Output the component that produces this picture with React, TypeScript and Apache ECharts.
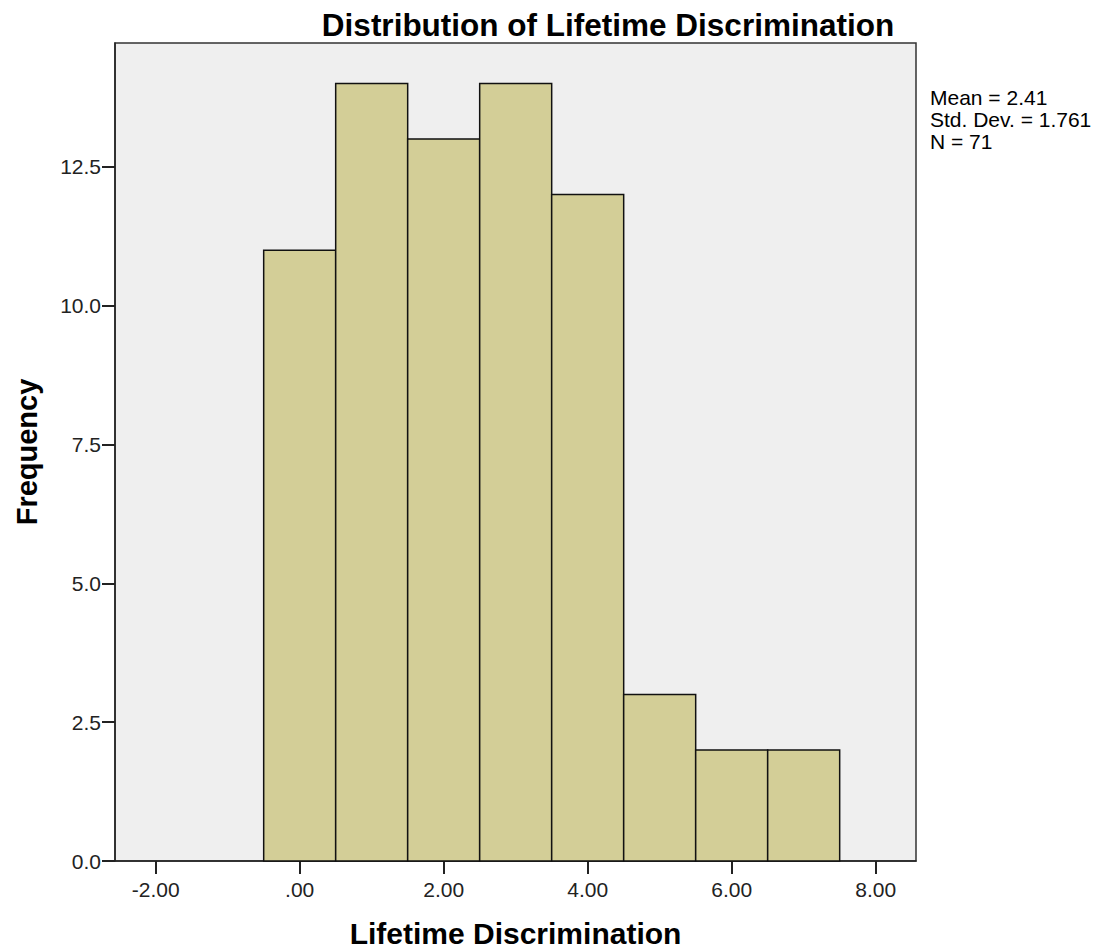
import React, { useEffect, useRef } from "react";
import * as echarts from "echarts";

const binStarts = [-0.5, 0.5, 1.5, 2.5, 3.5, 4.5, 5.5, 6.5];
const binEnds = [0.5, 1.5, 2.5, 3.5, 4.5, 5.5, 6.5, 7.5];
const counts = [11, 14, 13, 14, 12, 3, 2, 2];
const xTicks = [-2, 0, 2, 4, 6, 8];
const yTicks = [0, 2.5, 5, 7.5, 10, 12.5];
const statsLines = ["Mean = 2.41", "Std. Dev. = 1.761", "N = 71"];

const FONT = "Liberation Sans, Arial, sans-serif";

const fmtX = (v: number) => {
  const s = v.toFixed(2);
  if (s === "0.00") return ".00";
  return s;
};

export default function App() {
  const ref = useRef<HTMLDivElement>(null);
  useEffect(() => {
    if (!ref.current) return;
    const chart = echarts.init(ref.current, undefined, { renderer: "svg" });
    const data = counts.map((c, i) => [binStarts[i], binEnds[i], c]);
    chart.setOption({
      animation: false,
      backgroundColor: "#ffffff",
      textStyle: { fontFamily: FONT },
      title: {
        text: "Distribution of Lifetime Discrimination",
        left: 603,
        textAlign: "center",
        top: 4,
        textStyle: { fontSize: 31.5, fontWeight: "bold", color: "#000", fontFamily: FONT },
      },
      grid: {
        left: 115,
        top: 43,
        right: 180,
        bottom: 90,
        outerBoundsMode: "none",
        containLabel: false,
        show: true,
        backgroundColor: "#efefef",
        borderColor: "#333",
        borderWidth: 1.5,
      },
      xAxis: {
        type: "value",
        min: -2.565,
        max: 8.56,
        name: "Lifetime Discrimination",
        nameLocation: "middle",
        nameGap: 57,
        nameTextStyle: { fontSize: 30, fontWeight: "bold", color: "#000", fontFamily: FONT },
        splitLine: { show: false },
        axisLine: { show: true, onZero: false, lineStyle: { color: "#222", width: 1.5 } },
        axisTick: { show: true, length: 13, lineStyle: { color: "#222", width: 2 }, customValues: xTicks },
        axisLabel: {
          customValues: xTicks,
          formatter: (v: number) => fmtX(v),
          fontSize: 21,
          color: "#222",
          margin: 18,
          fontFamily: FONT,
        },
      },
      yAxis: {
        type: "value",
        min: 0,
        max: 14.73,
        name: "Frequency",
        nameLocation: "middle",
        nameGap: 74,
        nameRotate: 90,
        nameTextStyle: { fontSize: 29, fontWeight: "bold", color: "#000", fontFamily: FONT },
        splitLine: { show: false },
        axisLine: { show: true, onZero: false, lineStyle: { color: "#222", width: 1.5 } },
        axisTick: { show: true, length: 13, lineStyle: { color: "#222", width: 2 }, customValues: yTicks },
        axisLabel: {
          customValues: yTicks,
          formatter: (v: number) => v.toFixed(1),
          fontSize: 21,
          color: "#222",
          margin: 14,
          fontFamily: FONT,
        },
      },
      series: [
        {
          type: "custom",
          data,
          encode: { x: [0, 1], y: 2 },
          renderItem: (params: any, api: any) => {
            const lo = api.value(0);
            const hi = api.value(1);
            const c = api.value(2);
            const p1 = api.coord([lo, c]);
            const p2 = api.coord([hi, 0]);
            return {
              type: "rect",
              shape: { x: p1[0], y: p1[1], width: p2[0] - p1[0], height: p2[1] - p1[1] },
              style: { fill: "#d3ce97", stroke: "#111", lineWidth: 1.5 },
            };
          },
        },
      ],
      graphic: [
        {
          type: "text",
          left: 930,
          top: 86,
          style: {
            text: statsLines.join("\n"),
            fontSize: 21,
            lineHeight: 22,
            fill: "#000",
            fontFamily: FONT,
          },
        },
      ],
    });
    return () => chart.dispose();
  }, []);
  return <div ref={ref} style={{ position: "absolute", left: 0, top: 0, width: 1096, height: 951 }} />;
}
